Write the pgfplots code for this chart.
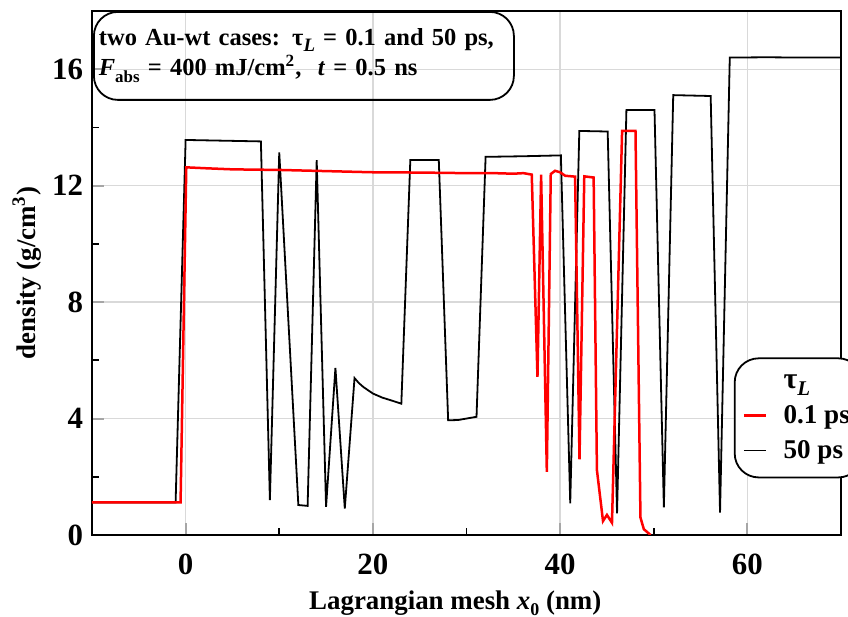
\documentclass[border=0pt]{standalone}
\usepackage{pgfplots}
\pgfplotsset{compat=1.18}
\usepackage{fontspec}
\setmainfont{Liberation Serif}
\begin{document}
\begin{tikzpicture}
\begin{axis}[
  name=ax,
  scale only axis,
  width=374.5bp, height=262bp,
  xmin=-10, xmax=70, ymin=0, ymax=18,
  xtick={0,20,40,60}, minor xtick={10,30,50},
  ytick={0,4,8,12,16}, minor ytick={2,6,10,14},
  tick pos=left,
  tick align=inside,
  major tick length=6bp, minor tick length=3.5bp,
  major tick style={gray!70, line width=1bp},
  minor tick style={black, line width=0.9bp},
  xmajorgrids, ymajorgrids,
  major grid style={gray!30, line width=0.7bp},
  axis line style={line width=1.1bp},
  /pgf/number format/assume math mode=true,
  ticklabel style={font=\fontsize{15.5}{15.5}\selectfont\bfseries},
  xticklabel style={yshift=-6bp},
  yticklabel style={xshift=-1bp},
  xlabel={Lagrangian mesh \textit{x}\raisebox{-0.25em}{\fontsize{9}{9}\selectfont 0} (nm)},
  ylabel={density (g/cm\textsuperscript{3})},
  label style={font=\fontsize{13.5}{13.5}\selectfont\bfseries},
  xlabel style={at={(axis description cs:0.485,-0.13)}, anchor=center},
  ylabel style={at={(axis description cs:-0.087,0.5)}, anchor=center},
  legend style={at={(axis cs:58.55,6.1)}, anchor=north west, draw=black,
    rounded corners=12bp, line width=0.9bp, fill=white,
    font=\fontsize{13.6}{13.6}\selectfont\bfseries,
    inner xsep=4bp, inner ysep=6bp, row sep=2.5bp, column sep=6bp,
    nodes={inner sep=2.2bp}},
  legend cell align=left,
  legend image code/.code={\draw[#1] (0bp,0bp) -- (11bp,0bp);},
]
\addlegendimage{empty legend}
\addlegendentry{\fontsize{15}{15}\selectfont τ\raisebox{-0.25em}{\fontsize{10.5}{10.5}\selectfont\textit{L}}}
\addplot[black, line width=0.9bp, forget plot] coordinates {
(-10,1.12) (-1.07,1.12) (0,13.57) (8.04,13.52) (9,1.2) (10,13.14) (12.04,1.03) (13.03,1.0)
(14,12.88) (15,0.97) (16,5.74) (17,0.91) (18.04,5.39) (18.5,5.22) (19,5.08) (20,4.86)
(21,4.72) (22,4.62) (23.04,4.51) (24,12.88) (27.04,12.88) (28.04,3.94) (29.1,3.95)
(31.07,4.06) (32.04,12.99) (36,13.01) (40.08,13.04) (41.08,1.09) (42.05,13.88) (45.08,13.86)
(46.08,0.74) (47.08,14.6) (50.08,14.6) (51.08,0.95) (52.08,15.11) (56.08,15.08)
(57.08,0.77) (58.12,16.4) (62,16.41) (66,16.4) (70,16.4)
};
\addplot[red, line width=1.25bp] coordinates {
(-10,1.12) (-0.54,1.12) (0.07,12.63) (2,12.6) (5,12.56) (10,12.54) (15,12.5) (20,12.46)
(25,12.45) (30,12.43) (33,12.43) (35,12.41) (36.08,12.43) (36.97,12.38) (37.58,5.43)
(37.97,12.38) (38.58,2.17) (39.0,12.4) (39.46,12.51) (40.0,12.46) (40.54,12.34)
(41.6,12.31) (42.07,2.6) (42.58,12.32) (43.58,12.28) (43.93,2.23) (44.58,0.48) (45.0,0.69)
(45.54,0.42) (46.62,13.88) (48.05,13.88) (48.58,0.6) (48.94,0.2) (49.66,0)
};
\addlegendentry{0.1 ps}
\addlegendimage{black, line width=0.9bp}
\addlegendentry{50 ps}
\end{axis}
\node[draw=black, line width=0.9bp, rounded corners=12bp, anchor=north west,
  text width=205bp, inner xsep=2.5bp, inner ysep=0bp, minimum height=44bp, align=left,
  font=\fontsize{12.3}{15}\selectfont\bfseries]
  at ([xshift=0.5bp]ax.north west)
  {two Au-wt cases: τ\raisebox{-0.25em}{\fontsize{9.5}{9.5}\selectfont\textit{L}} = 0.1 and 50 ps,\\
   \textit{F}\raisebox{-0.3em}{\fontsize{8.5}{8.5}\selectfont abs} = 400 mJ/cm\textsuperscript{2},\ \ \textit{t} = 0.5 ns};
\pgfresetboundingbox
\path ([shift={(-46bp,-41bp)}]ax.south west) rectangle ([shift={(3.5bp,5.5bp)}]ax.north east);
\end{tikzpicture}
\end{document}
